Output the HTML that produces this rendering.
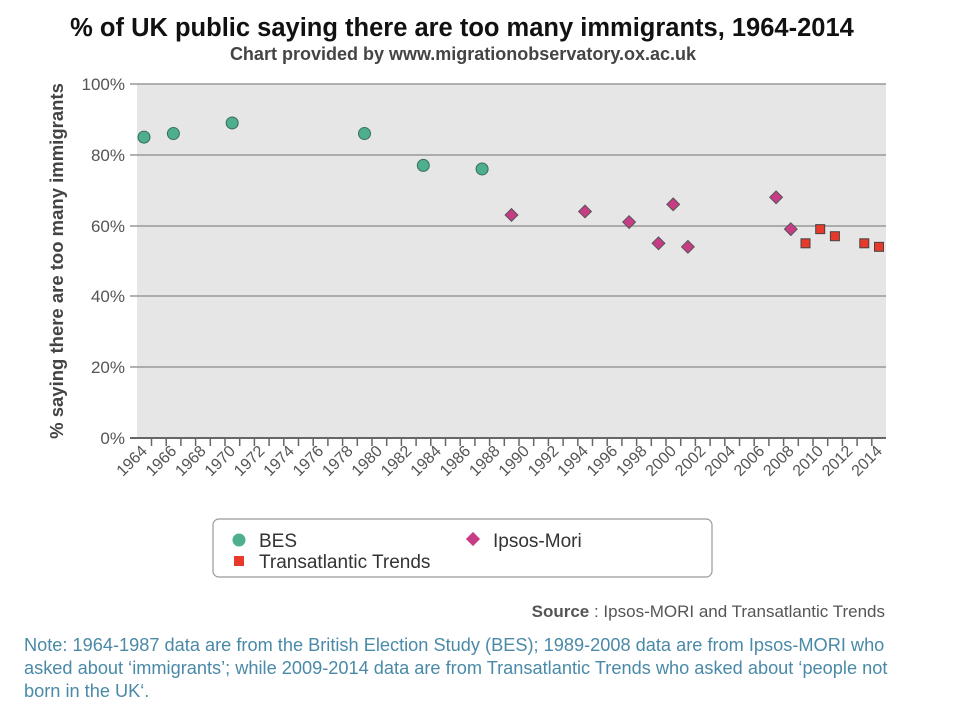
<!DOCTYPE html>
<html><head><meta charset="utf-8"><style>
body{margin:0;background:#fff;width:980px;height:709px;overflow:hidden;font-family:"Liberation Sans",sans-serif}
</style></head><body>
<svg id="s" width="980" height="709" xmlns="http://www.w3.org/2000/svg" font-family="Liberation Sans, sans-serif">
<text x="462" y="36" text-anchor="middle" font-size="25.5" font-weight="bold" fill="#111">% of UK public saying there are too many immigrants, 1964-2014</text>
<text x="463" y="60" text-anchor="middle" font-size="18" font-weight="bold" fill="#444">Chart provided by www.migrationobservatory.ox.ac.uk</text>
<rect x="137" y="84" width="749" height="354" fill="#e6e6e6"/>
<g stroke="#999" stroke-width="1.5">
<line x1="130" x2="886" y1="84" y2="84"/><line x1="130" x2="886" y1="155" y2="155"/><line x1="130" x2="886" y1="226" y2="226"/><line x1="130" x2="886" y1="296" y2="296"/><line x1="130" x2="886" y1="367" y2="367"/>
</g>
<line x1="130" x2="886" y1="438" y2="438" stroke="#666" stroke-width="2"/>
<g font-size="17" fill="#555" text-anchor="end">
<text x="125" y="90">100%</text><text x="125" y="161">80%</text><text x="125" y="232">60%</text><text x="125" y="302">40%</text><text x="125" y="373">20%</text><text x="125" y="444">0%</text>
</g>
<text transform="translate(63,261) rotate(-90)" text-anchor="middle" font-size="18.5" font-weight="bold" fill="#444">% saying there are too many immigrants</text>
<g id="ticks" stroke="#666" stroke-width="1.5"></g>
<g id="labels" font-size="16" fill="#555" text-anchor="end"></g>
<g id="pts"></g>
<rect x="213" y="519" width="499" height="58" rx="6" fill="#fff" stroke="#999" stroke-width="1.2"/>
<circle cx="239" cy="540" r="6.5" fill="#4daf8e"/>
<text x="259" y="547" font-size="19" fill="#333">BES</text>
<rect x="468" y="534" width="10" height="10" transform="rotate(45 473 539)" fill="#c83c86"/>
<text x="493" y="547" font-size="19" fill="#333">Ipsos-Mori</text>
<rect x="234" y="556" width="10" height="10" fill="#e8392a"/>
<text x="259" y="568" font-size="19" fill="#333">Transatlantic Trends</text>
<text x="885" y="617" text-anchor="end" font-size="17" fill="#555"><tspan font-weight="bold">Source</tspan> : Ipsos-MORI and Transatlantic Trends</text>
<g font-size="18.2" fill="#4a8aa8">
<text x="24" y="651">Note: 1964-1987 data are from the British Election Study (BES); 1989-2008 data are from Ipsos-MORI who</text>
<text x="24" y="674">asked about ‘immigrants’; while 2009-2014 data are from Transatlantic Trends who asked about ‘people not</text>
<text x="24" y="697">born in the UK‘.</text>
</g>
</svg>
<script>
var NS="http://www.w3.org/2000/svg";
function X(y){return 144+14.7*(y-1964)}
function Y(v){return 438-3.54*v}
function el(t,a,p){var e=document.createElementNS(NS,t);for(var k in a)e.setAttribute(k,a[k]);document.getElementById(p).appendChild(e);return e}
for(var i=0;i<=50;i++){var x=151.5+14.7*i;if(x>886)break;el('line',{x1:x,x2:x,y1:438,y2:446},'ticks')}
for(var y=1964;y<=2014;y+=2){var t=el('text',{transform:'translate('+(X(y)+4)+',452) rotate(-45)'},'labels');t.textContent=y}
[[1964,85],[1966,86],[1970,89],[1979,86],[1983,77],[1987,76]].forEach(function(d){el('circle',{cx:X(d[0]),cy:Y(d[1]),r:6,fill:'#4daf8e',stroke:'#3a6b5a','stroke-width':1},'pts')});
[[1989,63],[1994,64],[1997,61],[1999,55],[2000,66],[2001,54],[2007,68],[2008,59]].forEach(function(d){var x=X(d[0]),y=Y(d[1]);el('rect',{x:x-4.5,y:y-4.5,width:9,height:9,transform:'rotate(45 '+x+' '+y+')',fill:'#c83c86',stroke:'#555','stroke-width':1},'pts')});
[[2009,55],[2010,59],[2011,57],[2013,55],[2014,54]].forEach(function(d){var x=X(d[0]),y=Y(d[1]);el('rect',{x:x-4.5,y:y-4.5,width:9,height:9,fill:'#e8392a',stroke:'#444','stroke-width':1},'pts')});
</script>
</body></html>
